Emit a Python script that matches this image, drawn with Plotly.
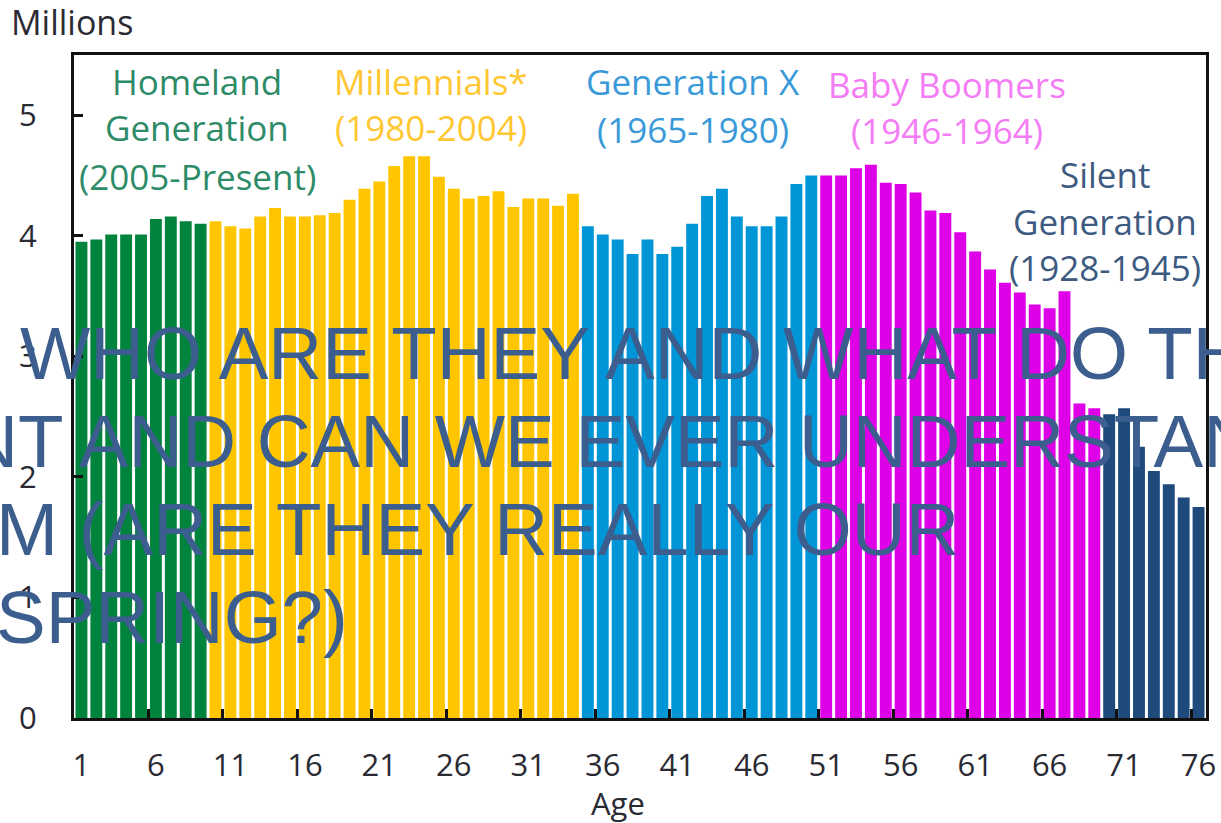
import plotly.graph_objects as go

# ---------------- data ----------------
ages = list(range(1, 77))
population = [
    3.95, 3.97, 4.01, 4.01, 4.01, 4.14, 4.16, 4.12, 4.10,            # 1-9 Homeland
    4.12, 4.08, 4.06, 4.16, 4.23, 4.16, 4.16, 4.17, 4.19, 4.30,      # 10-19
    4.39, 4.45, 4.58, 4.66, 4.66, 4.49, 4.39, 4.31, 4.33, 4.37,      # 20-29
    4.24, 4.31, 4.31, 4.25, 4.35,                                    # 30-34
    4.08, 4.01, 3.97, 3.85, 3.97, 3.85, 3.91, 4.10, 4.33, 4.39,      # 35-44 Gen X
    4.16, 4.08, 4.08, 4.16, 4.43, 4.50,                              # 45-50
    4.50, 4.50, 4.56, 4.59, 4.44, 4.43, 4.36, 4.21, 4.19, 4.03,      # 51-60 Boomers
    3.87, 3.72, 3.61, 3.53, 3.43, 3.40, 3.54, 2.61, 2.57,            # 61-69
    2.52, 2.57, 2.25, 2.05, 1.94, 1.83, 1.75,                        # 70-76 Silent
]
generations = ["Homeland", "Millennials", "Generation X", "Baby Boomers", "Silent"]
gen_first_age = [1, 10, 35, 51, 70]
gen_bar_colors = ["#00843D", "#FFC600", "#0095D6", "#DE00E6", "#1F4A7C"]
gen_text_colors = ["#2E8B68", "#FFC732", "#3A9AD9", "#F47CF4", "#3D5A80"]
gen_label_lines = [
    ["Homeland", "Generation", "(2005-Present)"],
    ["Millennials*", "(1980-2004)"],
    ["Generation X", "(1965-1980)"],
    ["Baby Boomers", "(1946-1964)"],
    ["Silent", "Generation", "(1928-1945)"],
]
x_tick_labels = [str(a) for a in range(1, 77, 5)]
y_tick_values = [0, 1, 2, 3, 4, 5]
overlay_lines = [
    "WHO ARE THEY AND WHAT DO THEY",
    "WANT AND CAN WE EVER UNDERSTAND",
    "THEM (ARE THEY REALLY OUR",
    "OFFSPRING?)",
]

# ---------------- layout geometry ----------------
W, H = 1221, 823
PX0, PX1, PY0, PY1 = 74, 1206, 55, 718.5
L, R, T, B = PX0, W - PX1, PY0, H - PY1
pw, ph = PX1 - PX0, PY1 - PY0


def px(x):
    return (x - PX0) / pw


def py(y):
    return (PY1 - y) / ph


def gen_index(age):
    idx = 0
    for i, a in enumerate(gen_first_age):
        if age >= a:
            idx = i
    return idx


fig = go.Figure()
for gi, gname in enumerate(generations):
    xs = [str(a) for a in ages if gen_index(a) == gi]
    ys = [v for a, v in zip(ages, population) if gen_index(a) == gi]
    fig.add_trace(go.Bar(x=xs, y=ys, name=gname, marker_color=gen_bar_colors[gi],
                         marker_line_width=0, showlegend=False))

annotations = []
label_pos = [
    (197, [82, 128, 177]),
    (431, [82, 128]),
    (693, [82, 130]),
    (947, [85, 131]),
    (1105, [175, 222, 268]),
]
for gi, (cx, ys_px) in enumerate(label_pos):
    for line, yy in zip(gen_label_lines[gi], ys_px):
        annotations.append(dict(
            text=line, x=px(cx), y=py(yy), xref="paper", yref="paper",
            xanchor="center", yanchor="middle", showarrow=False,
            font=dict(family="Open Sans", size=35, color=gen_text_colors[gi])))

annotations.append(dict(text="Millions", x=px(9), y=py(22), xref="paper", yref="paper",
                        xanchor="left", yanchor="middle", showarrow=False,
                        font=dict(family="Open Sans", size=34, color="#2a2a33")))
annotations.append(dict(text="Age", x=px(618), y=py(804), xref="paper", yref="paper",
                        xanchor="center", yanchor="middle", showarrow=False,
                        font=dict(family="Open Sans", size=31, color="#2a2a33")))

F = 74.5
X0 = -2.0 * F - 6
title_x = [18, X0, X0, X0]
title_y = [354, 442, 530, 618]
for line, xx, yy in zip(overlay_lines, title_x, title_y):
    annotations.append(dict(text=line, x=px(xx), y=py(yy), xref="paper", yref="paper",
                            xanchor="left", yanchor="middle", showarrow=False,
                            font=dict(family="Liberation Sans", size=F, color="#3B5E8E")))

fig.update_layout(
    width=W, height=H,
    margin=dict(l=L, r=R, t=T, b=B, autoexpand=False),
    paper_bgcolor="white", plot_bgcolor="white",
    bargap=0.2, barmode="overlay",
    annotations=annotations,
    font=dict(family="Open Sans", color="#2a2a33"),
)
fig.update_xaxes(
    type="category", categoryorder="array", categoryarray=[str(a) for a in ages],
    range=[-0.5, 75.5], tickmode="array", tickvals=x_tick_labels, ticktext=x_tick_labels,
    tickson="boundaries", ticks="inside", ticklen=9, tickwidth=3, tickcolor="#111",
    tickangle=0,
    showline=True, linewidth=3, linecolor="#111", mirror=True, showgrid=False,
    tickfont=dict(family="Open Sans", size=31, color="#2a2a33"), ticklabelstandoff=18,
)
fig.update_yaxes(
    range=[0, 5.5], tickmode="array", tickvals=y_tick_values,
    ticks="inside", ticklen=9, tickwidth=3, tickcolor="#111",
    showline=True, linewidth=3, linecolor="#111", mirror=True, showgrid=False,
    zeroline=False,
    tickfont=dict(family="Open Sans", size=31, color="#2a2a33"), ticklabelstandoff=28,
)

fig.write_html("out.html", config={"displayModeBar": False},
               post_script="document.body.style.margin='0px';")
